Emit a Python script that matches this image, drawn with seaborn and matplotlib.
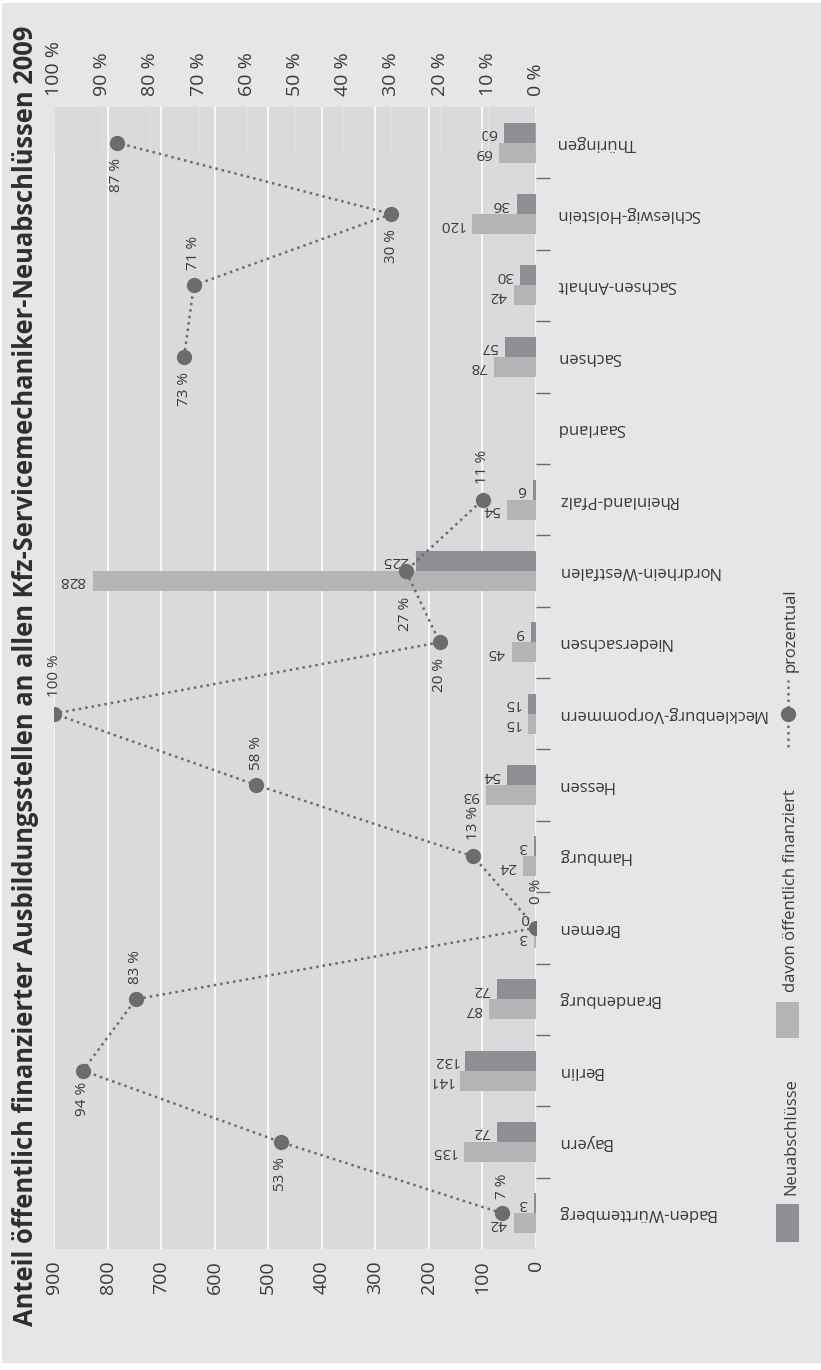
import numpy as np
import pandas as pd
import matplotlib
matplotlib.use("Agg")
import matplotlib.pyplot as plt
import seaborn as sns
from matplotlib.patches import Rectangle
from matplotlib.lines import Line2D
from matplotlib.ticker import FixedLocator

# Daten: Kfz-Servicemechaniker-Neuabschlüsse 2009
laender = ["Baden-Württemberg", "Bayern", "Berlin", "Brandenburg", "Bremen", "Hamburg",
           "Hessen", "Mecklenburg-Vorpommern", "Niedersachsen", "Nordrhein-Westfalen",
           "Rheinland-Pfalz", "Saarland", "Sachsen", "Sachsen-Anhalt",
           "Schleswig-Holstein", "Thüringen"]
neuabschluesse = [42, 135, 141, 87, 3, 24, 93, 15, 45, 828, 54, np.nan, 78, 42, 120, 69]
oeffentlich = [3, 72, 132, 72, 0, 3, 54, 15, 9, 225, 6, np.nan, 57, 30, 36, 60]
prozent = [7, 53, 94, 83, 0, 13, 58, 100, 20, 27, 11, np.nan, 73, 71, 30, 87]

wert_ticks = list(range(0, 901, 100))
prozent_ticks = list(range(0, 101, 10))

titel = ("Anteil öffentlich finanzierter Ausbildungsstellen an allen "
         "Kfz-Servicemechaniker-Neuabschlüssen 2009")

# Label-Versatz der Prozentwerte (Punkte, + = oben)
label_offset = [10, -11, -8, 11, 17, 12, 11, 12, -11, -19, 11, 0, -11, 11, -11, -11]

# Farben
hintergrund = "#e5e6e8"
plotflaeche = "#d9dadc"
dunkel = "#8e8f92"
hell = "#b3b4b6"
punkt = "#6b6c6e"
text_farbe = "#3a3a3a"

sns.set_theme(style="white")
plt.rcParams["font.family"] = ["Open Sans", "DejaVu Sans"]

W, H = 821, 1370


def fx(px):
    return px / W


def fy(py):
    return 1 - py / H


fig = plt.figure(figsize=(W / 100, H / 100), dpi=100, facecolor="white")
fig.add_artist(Rectangle((fx(2), fy(1363)), fx(819), 1360 / H, transform=fig.transFigure,
                         facecolor=hintergrund, edgecolor="none", zorder=0))

ax = fig.add_axes([fx(54), fy(1249), fx(482), 1142 / H])
ax.set_facecolor(plotflaeche)

df = pd.DataFrame({
    "land": laender * 2,
    "wert": oeffentlich + neuabschluesse,
    "serie": ["oeffentlich"] * len(laender) + ["neu"] * len(laender),
})
order = laender[::-1]

sns.barplot(data=df, x="wert", y="land", hue="serie", order=order,
            hue_order=["oeffentlich", "neu"], palette=[dunkel, hell],
            orient="h", width=0.56, gap=0, errorbar=None, saturation=1,
            legend=False, linewidth=0, ax=ax)

ax.set_xlim(900, 0)
ax.set_xticks(wert_ticks)
ax.set_xticklabels([str(v) for v in wert_ticks])
ax.tick_params(axis="x", length=0, pad=8, labelsize=14, labelrotation=90,
               labelcolor=text_farbe)
ax.set_xlabel("")
ax.set_ylabel("")
ax.grid(axis="x", color="white", linewidth=1.2)
ax.grid(axis="y", visible=False)
ax.set_axisbelow(True)
for s in ax.spines.values():
    s.set_visible(False)

# Kategorien rechts, kopfstehend
ax.yaxis.tick_right()
ax.yaxis.set_minor_locator(FixedLocator(np.arange(0.5, len(laender) - 1, 1)))
ax.tick_params(axis="y", which="major", length=0, pad=15, labelsize=12,
               labelcolor=text_farbe)
ax.tick_params(axis="y", which="minor", length=10, width=1, color="#6a6a6a",
               right=True, left=False)
for lbl in ax.get_yticklabels():
    lbl.set_rotation(180)
    lbl.set_va("center")
    lbl.set_ha("left")

# Werte an den Balken
for cont in ax.containers:
    for bar in cont:
        w = bar.get_width()
        if np.isnan(w):
            continue
        ax.annotate(f"{w:.0f}", xy=(w, bar.get_y() + bar.get_height() / 2),
                    xytext=(-5, 0), textcoords="offset points", ha="right", va="center",
                    rotation=180, fontsize=11, color=text_farbe)

# Prozentlinie auf zweiter Achse
ax2 = ax.twiny()
ax2.set_xlim(100, 0)
pos = [order.index(l) for l in laender]
ax2.plot(prozent, pos, color=punkt, linestyle=(0, (1, 1.6)), linewidth=1.8,
         marker="o", markersize=11, markeredgewidth=0)
ax2.set_xticks(prozent_ticks)
ax2.set_xticklabels([f"{v} %" for v in prozent_ticks])
ax2.tick_params(axis="x", direction="in", length=32, width=1, color="#e2e3e5",
                pad=8, labelsize=14, labelrotation=90, labelcolor=text_farbe)
for s in ax2.spines.values():
    s.set_visible(False)

# Kategorienachse wieder eng setzen (plot() hat autoskaliert)
ax.set_ylim(len(laender) - 0.5, -0.5)

for p, y, off in zip(prozent, pos, label_offset):
    if np.isnan(p):
        continue
    ax2.annotate(f"{p:.0f} %", xy=(p, y), xytext=(0, off), textcoords="offset points",
                 ha="center", va="bottom" if off > 0 else "top", rotation=90,
                 fontsize=11, color=text_farbe)

# Titel
fig.text(fx(26), fy(676), titel, rotation=90, ha="center", va="center",
         fontsize=18.4, fontweight="bold", color="#2e2e2e")

# Legende (von Hand, gedreht)
fig.add_artist(Rectangle((fx(776), fy(1242)), fx(23), 38 / H, transform=fig.transFigure,
                         facecolor=dunkel, edgecolor="none"))
fig.text(fx(791), fy(1195), "Neuabschlüsse", rotation=90, ha="center", va="bottom",
         fontsize=12, color=text_farbe)
fig.add_artist(Rectangle((fx(776), fy(1038)), fx(23), 36 / H, transform=fig.transFigure,
                         facecolor=hell, edgecolor="none"))
fig.text(fx(791), fy(992), "davon öffentlich finanziert", rotation=90, ha="center",
         va="bottom", fontsize=12, color=text_farbe)
fig.add_artist(Line2D([fx(788), fx(788)], [fy(747), fy(680)], transform=fig.transFigure,
                      color=punkt, linestyle=(0, (1, 1.6)), linewidth=1.8))
fig.add_artist(Line2D([fx(788)], [fy(714)], transform=fig.transFigure, color=punkt,
                      marker="o", markersize=11, markeredgewidth=0))
fig.text(fx(791), fy(672), "prozentual", rotation=90, ha="center", va="bottom",
         fontsize=12, color=text_farbe)

fig.savefig("out.png", dpi=100, facecolor=fig.get_facecolor())
